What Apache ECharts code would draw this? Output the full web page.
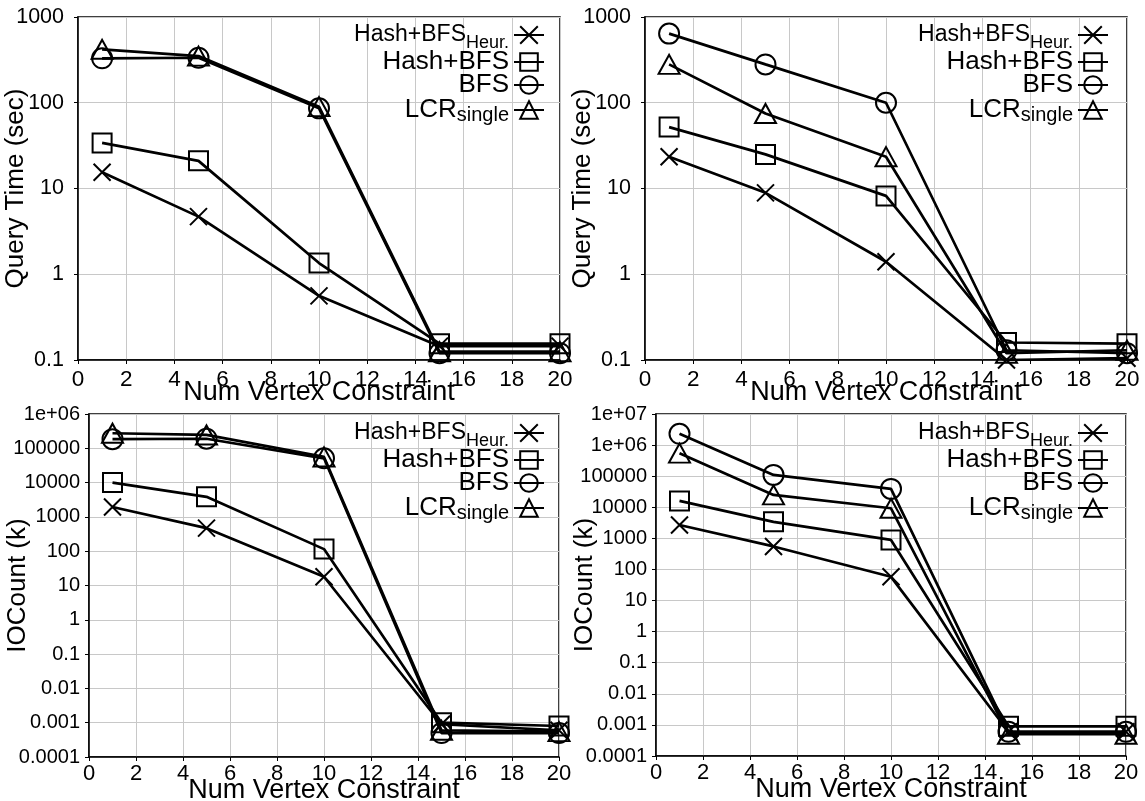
<!DOCTYPE html>
<html lang="en">
<head>
<meta charset="UTF-8">
<title>Query time / IO count vs vertex constraint</title>
<script src="https://cdn.jsdelivr.net/npm/echarts@6.0.0/dist/echarts.min.js"></script>
<style>
  html, body { margin: 0; padding: 0; background: #fff; }
  #chart { width: 1145px; height: 801px; }
</style>
</head>
<body>
<div id="chart"></div>
<script>
const xValues = [1, 5, 10, 15, 20];
const seriesNames = ['Hash+BFS_Heur.', 'Hash+BFS', 'BFS', 'LCR_single'];
const legendLabels = ['{m1|Hash+BFS}{s1|Heur.}', '{m|Hash+BFS}', '{m|BFS}', '{m|LCR}{s4|single}'];

// top left - query time (sec)
const qtLeftHeur = [15.5, 4.7, 0.56, 0.145, 0.145];
const qtLeftHash = [34, 21, 1.35, 0.155, 0.155];
const qtLeftBfs = [330, 335, 86, 0.12, 0.12];
const qtLeftLcr = [420, 350, 90, 0.125, 0.125];

// top right - query time (sec)
const qtRightHeur = [23.5, 8.9, 1.4, 0.1, 0.105];
const qtRightHash = [52, 25, 8.2, 0.16, 0.155];
const qtRightBfs = [640, 280, 100, 0.13, 0.12];
const qtRightLcr = [280, 75, 23.5, 0.12, 0.13];

// bottom left - IOCount (k)
const ioLeftHeur = [1950, 470, 18, 0.0009, 0.0006];
const ioLeftHash = [10000, 3850, 115, 0.001, 0.0008];
const ioLeftBfs = [185000, 190000, 51000, 0.0005, 0.0005];
const ioLeftLcr = [275000, 245000, 56000, 0.0006, 0.00055];

// bottom right - IOCount (k)
const ioRightHeur = [2700, 550, 58, 0.0006, 0.0006];
const ioRightHash = [16000, 3400, 890, 0.0009, 0.0009];
const ioRightBfs = [2300000, 110000, 39000, 0.0006, 0.0006];
const ioRightLcr = [550000, 25000, 9300, 0.0005, 0.0005];

// y tick labels, indexed by exponent - lowest exponent
const qtTicks = ['0.1', '1', '10', '100', '1000'];
const ioTicks = ['0.0001', '0.001', '0.01', '0.1', '1', '10', '100', '1000', '10000', '100000', '1e+06', '1e+07'];

const font = 'Liberation Sans, Arial, Helvetica, sans-serif';
const crossPath = 'path://M0,0L10,10M10,0L0,10';
const symbols = [crossPath, 'rect', 'circle', 'triangle'];
const symbolSizes = [17, 19, 20, [21, 19]];

const panels = [
    { grid: { left: 78, top: 17, width: 482, height: 343 }, min: 0.1, max: 1000, low: -1, ticks: qtTicks,
      title: 'Query Time (sec)', nameGap: 49, xNameGap: 19, labelSize: 21.5, labelMargin: 14, xLabelSize: 22.5, xMargin: 8,
      values: [qtLeftHeur, qtLeftHash, qtLeftBfs, qtLeftLcr], legendRight: 600, legendTop: 18 },
    { grid: { left: 645, top: 17, width: 482, height: 343 }, min: 0.1, max: 1000, low: -1, ticks: qtTicks,
      title: 'Query Time (sec)', nameGap: 49, xNameGap: 19, labelSize: 21.5, labelMargin: 14, xLabelSize: 22.5, xMargin: 8,
      values: [qtRightHeur, qtRightHash, qtRightBfs, qtRightLcr], legendRight: 36, legendTop: 18 },
    { grid: { left: 89, top: 414, width: 470, height: 343 }, min: 0.0001, max: 1000000, low: -4, ticks: ioTicks,
      title: 'IOCount (k)', nameGap: 58, xNameGap: 20, labelSize: 20, labelMargin: 9, xLabelSize: 22, xMargin: 6,
      values: [ioLeftHeur, ioLeftHash, ioLeftBfs, ioLeftLcr], legendRight: 600, legendTop: 416 },
    { grid: { left: 656, top: 414, width: 470, height: 342 }, min: 0.0001, max: 10000000, low: -4, ticks: ioTicks,
      title: 'IOCount (k)', nameGap: 58, xNameGap: 20, labelSize: 20, labelMargin: 9, xLabelSize: 22, xMargin: 6,
      values: [ioRightHeur, ioRightHash, ioRightBfs, ioRightLcr], legendRight: 36, legendTop: 416 }
];

const chart = echarts.init(document.getElementById('chart'), null, { renderer: 'canvas' });

const option = {
    animation: false,
    textStyle: { fontFamily: font, color: '#000' },
    grid: panels.map(p => Object.assign({
        show: true, borderColor: '#000', borderWidth: 1.5, backgroundColor: 'transparent',
        containLabel: false, outerBoundsMode: 'none'
    }, p.grid)),
    xAxis: panels.map((p, i) => ({
        type: 'value', gridIndex: i, min: 0, max: 20, interval: 2,
        name: 'Num Vertex Constraint', nameLocation: 'middle', nameGap: p.xNameGap, nameMoveOverlap: false,
        nameTextStyle: { fontSize: 27, color: '#000', fontFamily: font },
        axisLine: { show: true, lineStyle: { color: '#000', width: 1.5 } },
        axisTick: { show: true, inside: false, length: 4, lineStyle: { color: '#000' } },
        axisLabel: { fontSize: p.xLabelSize, color: '#000', margin: p.xMargin, fontFamily: font },
        splitLine: { show: true, lineStyle: { color: '#c8c8c8', width: 1 } }
    })),
    yAxis: panels.map((p, i) => ({
        type: 'log', logBase: 10, gridIndex: i, min: p.min, max: p.max, interval: 1,
        name: p.title, nameLocation: 'middle', nameGap: p.nameGap, nameMoveOverlap: false,
        nameTextStyle: { fontSize: 26, color: '#000', fontFamily: font },
        axisLine: { show: true, lineStyle: { color: '#000', width: 1.5 } },
        axisTick: { show: true, inside: false, length: 4, lineStyle: { color: '#000' } },
        axisLabel: {
            fontSize: p.labelSize, color: '#000', margin: p.labelMargin, fontFamily: font,
            formatter: v => p.ticks[Math.round(Math.log10(v)) - p.low]
        },
        splitLine: { show: true, lineStyle: { color: '#c8c8c8', width: 1 } }
    })),
    legend: panels.map(p => ({
        orient: 'vertical', align: 'right', right: p.legendRight, top: p.legendTop,
        padding: 0, itemGap: -3, itemWidth: 30, itemHeight: 22,
        selectedMode: false, data: seriesNames,
        formatter: name => legendLabels[seriesNames.indexOf(name)],
        textStyle: {
            color: '#000', fontFamily: font,
            rich: {
                m1: { fontSize: 23, lineHeight: 22, fontFamily: font, color: '#000' },
                s1: { fontSize: 18, lineHeight: 16, padding: [16, 0, 0, 0], fontFamily: font, color: '#000' },
                m: { fontSize: 26, lineHeight: 22, fontFamily: font, color: '#000' },
                s4: { fontSize: 20, lineHeight: 12, padding: [10, 0, 0, 0], fontFamily: font, color: '#000' }
            }
        }
    })),
    series: []
};

panels.forEach((p, i) => {
    p.values.forEach((vals, k) => {
        option.series.push({
            name: seriesNames[k], type: 'line', xAxisIndex: i, yAxisIndex: i,
            data: xValues.map((x, j) => [x, vals[j]]),
            symbol: symbols[k], symbolSize: symbolSizes[k], symbolKeepAspect: true,
            showAllSymbol: true,
            lineStyle: { color: '#000', width: 2.7 },
            itemStyle: { color: 'rgba(0,0,0,0)', borderColor: '#000', borderWidth: 2 },
            emphasis: { disabled: true }
        });
    });
});

chart.setOption(option);
</script>
</body>
</html>
